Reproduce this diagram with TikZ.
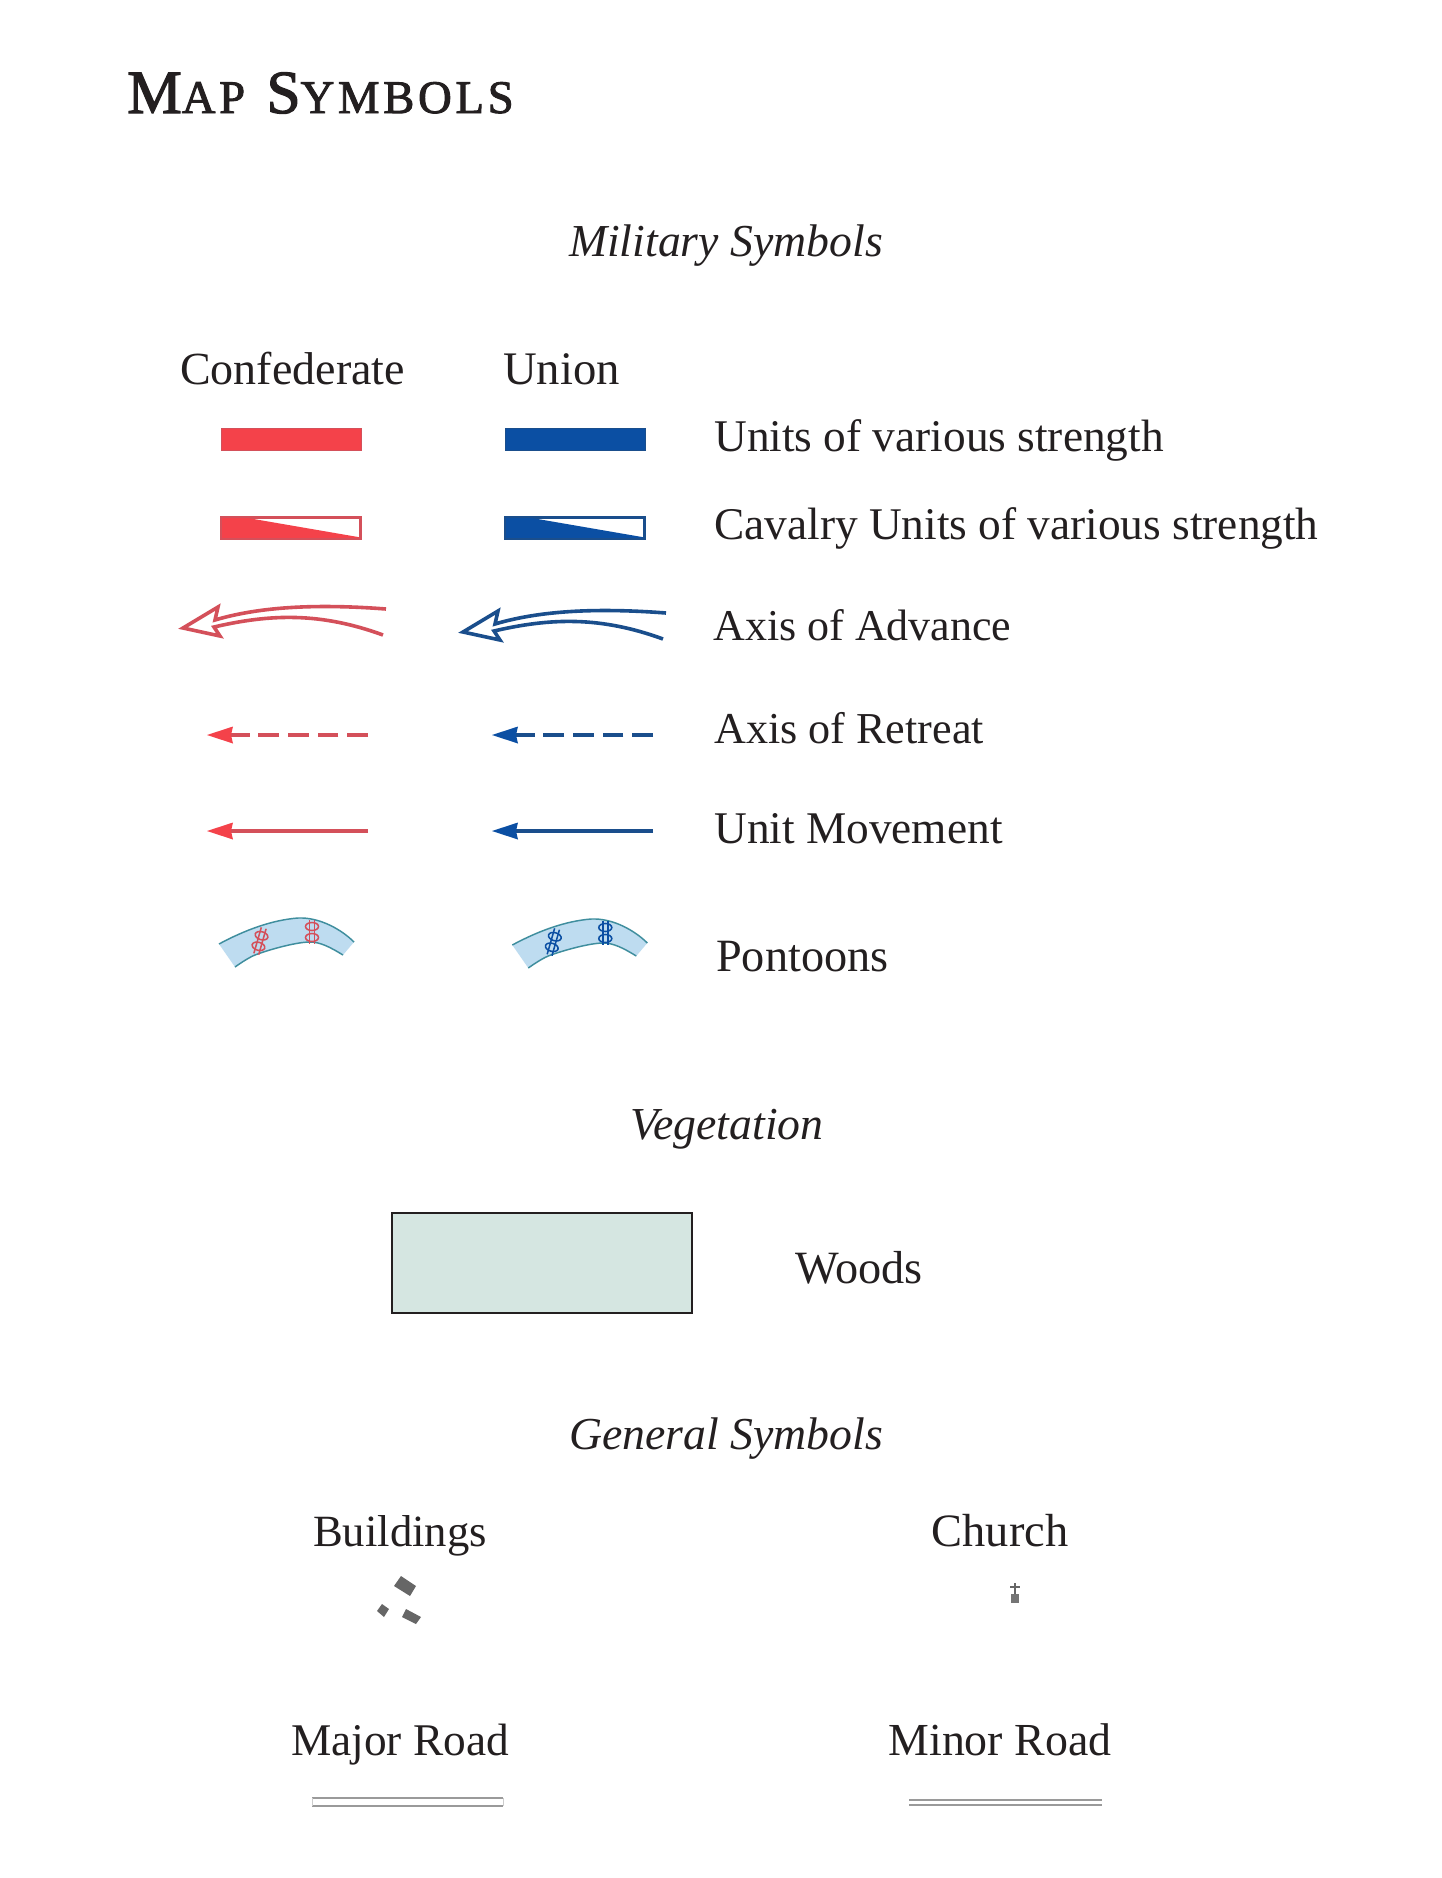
\documentclass[tikz,border=0pt]{standalone}
\usepackage{fontspec}
\setmainfont{Liberation Serif}
\newfontfamily\titlefont[LetterSpace=8,FakeBold=2]{Liberation Serif}
\definecolor{ink}{HTML}{231F20}
\definecolor{redfill}{HTML}{F4424A}
\definecolor{redline}{HTML}{D4505A}
\definecolor{bluefill}{HTML}{0B4FA3}
\definecolor{blueline}{HTML}{1A4E8C}
\definecolor{water}{HTML}{BEDCF0}
\definecolor{bank}{HTML}{3F8E9E}
\definecolor{woods}{HTML}{D5E6E1}
\definecolor{grayb}{HTML}{666666}
\definecolor{road}{HTML}{9A9A9A}
\newcommand{\mapts}{\fontsize{34}{40}\selectfont}
\newcommand{\maphs}{\fontsize{34.3}{42}\selectfont\itshape}
\newcommand{\fz}[1]{\fontsize{#1}{40}\selectfont}
\tikzset{
  lbl/.style={anchor=base west,inner sep=0pt,text=ink,font=\mapts},
  clbl/.style={anchor=base,inner sep=0pt,text=ink,font=\mapts},
  head/.style={anchor=base,inner sep=0pt,text=ink,font=\maphs},
}
\newcommand{\unitrow}[3]{%
  \fill[#2,draw=#3,line width=0.4pt] (#1,428) rectangle ++(140,22);
  \draw[#3,line width=1.8pt,fill=white] (#1+1,518) rectangle ++(138,20);
  \fill[#2] (#1,517) -- (#1+21,517) -- (#1+137,537) -- (#1+140,539) -- (#1,539) -- cycle;
  \draw[#3,line width=1.3pt] (#1,517) rectangle ++(140,22);
}
\newcommand{\advarrow}[3]{% dx dy colour
  \begin{scope}[shift={(#1,#2)}]
  \draw[#3,line width=2.7pt,line join=miter]
    (386,609) .. controls (320,604) and (262,606) .. (215,620)
    -- (218,607) -- (183,628) -- (220,636) -- (214,627)
    .. controls (270,614) and (320,612) .. (383,635);
  \end{scope}
}
\newcommand{\smallarrows}[3]{% dx fill line
  \begin{scope}[shift={(#1,0)}]
  \draw[#3,line width=2.8pt,dash pattern=on 15.6pt off 6.6pt] (368,735) -- (228,735);
  \fill[#2] (207,735) -- (233,726.5) -- (231,735) -- (233,743.5) -- cycle;
  \draw[#3,line width=2.8pt] (368,831) -- (228,831);
  \fill[#2] (207,831) -- (233,822.5) -- (231,831) -- (233,839.5) -- cycle;
  \end{scope}
}
\newcommand{\bridgemark}[5]{% x y rotation colour half length
  \begin{scope}[shift={(#1,#2)},rotate=#3]
  \draw[#4,line width=1.15pt] (-2.5,-#5) -- (-2.5,#5) (2.5,-#5) -- (2.5,#5);
  \draw[#4,line width=1.15pt] (0,-5.5) ellipse [x radius=6.5,y radius=4];
  \draw[#4,line width=1.15pt] (0,5.5) ellipse [x radius=6.5,y radius=4];
  \end{scope}
}
\newcommand{\pontoon}[3]{% dx dy colour
  \begin{scope}[shift={(#1,#2)}]
  \fill[water] (219,944) .. controls (245,930) and (272,920) .. (298,918)
     .. controls (320,917) and (342,930) .. (354,942)
     -- (343,955) .. controls (330,947) and (320,942) .. (310,942)
     .. controls (295,942) and (265,951) .. (255,955)
     .. controls (250,957) and (242,962) .. (235,967) -- cycle;
  \draw[bank,line width=1.1pt] (219,944) .. controls (245,930) and (272,920) .. (298,918)
     .. controls (320,917) and (342,930) .. (354,942);
  \draw[bank,line width=1.1pt] (343,955) .. controls (330,947) and (320,942) .. (310,942)
     .. controls (295,942) and (265,951) .. (255,955)
     .. controls (250,957) and (242,962) .. (235,967);
  \bridgemark{260}{941}{-16}{#3}{13.5}
  \bridgemark{312}{932}{0}{#3}{12}
  \end{scope}
}
\begin{document}
\begin{tikzpicture}[x=0.75pt,y=-0.75pt]
\useasboundingbox[fill=white] (0,0) rectangle (1442,1878);
% title
\node[anchor=base west,inner sep=0pt,text=ink] (title) at (127,113)
  {\titlefont\fontsize{46}{50}\selectfont M\fontsize{35}{50}\selectfont AP\kern 16pt \fontsize{46}{50}\selectfont S\fontsize{35}{50}\selectfont YMBOLS};
% headings
\node[head] (hmil) at (726,256) {Military Symbols};
\node[head] (hveg) at (727,1139) {Vegetation};
\node[head] (hgen) at (726,1449) {General Symbols};
% columns
\node[lbl] (conf) at (180,384) {\fz{34.5}Confederate};
\node[lbl] (unio) at (503,384) {\fz{35}Union};
% labels
\node[lbl] (l1) at (714,451) {Units of various strength};
\node[lbl] (l2) at (714,539) {Cavalry Units of various strength};
\node[lbl] (l3) at (713,640) {\fz{33}Axis of Advance};
\node[lbl] (l4) at (714,743) {\fz{33.1}Axis of Retreat};
\node[lbl] (l5) at (714,843) {Unit Movement};
\node[lbl] (l6) at (716,971) {\fz{34.7}Pontoons};
\node[lbl] (l7) at (795,1283) {\fz{34.7}Woods};
% symbols
\unitrow{221}{redfill}{redline}
\unitrow{505}{bluefill}{blueline}
\advarrow{0}{0}{redline}
\advarrow{280}{4}{blueline}
\smallarrows{0}{redfill}{redline}
\smallarrows{285}{bluefill}{blueline}
\pontoon{0}{0}{redline}
\pontoon{293.3}{1}{bluefill}
% woods
\draw[ink,fill=woods,line width=1.2pt] (392,1213) rectangle (692,1313);
% general
\node[clbl] (b) at (400,1546) {\fz{33.5}Buildings};
\node[clbl] (c) at (1000,1546) {\fz{34.8}Church};
\node[clbl] (maj) at (400,1755) {Major Road};
\node[clbl] (mnr) at (1000,1755) {\fz{34.4}Minor Road};
\fill[grayb] (401,1576) -- (416,1586) -- (410,1596) -- (394,1586) -- cycle;
\fill[grayb] (382,1604) -- (389,1609) -- (384,1617) -- (377,1611) -- cycle;
\fill[grayb] (406,1609) -- (421,1617) -- (416,1624) -- (402,1617) -- cycle;
\fill[grayb!90] (1011,1594) rectangle (1019,1603);
\draw[grayb,line width=1pt] (1015,1583) -- (1015,1594) (1010,1587) -- (1020,1587);
\draw[road,line width=1.2pt] (312,1798) -- (503,1798) (312,1806) -- (503,1806);
\draw[road!50,line width=.5pt] (312,1798) -- (312,1806) (503,1798) -- (503,1806);
\draw[road,line width=1.2pt] (909,1800) -- (1102,1800) (909,1805) -- (1102,1805);
\end{tikzpicture}
\end{document}
